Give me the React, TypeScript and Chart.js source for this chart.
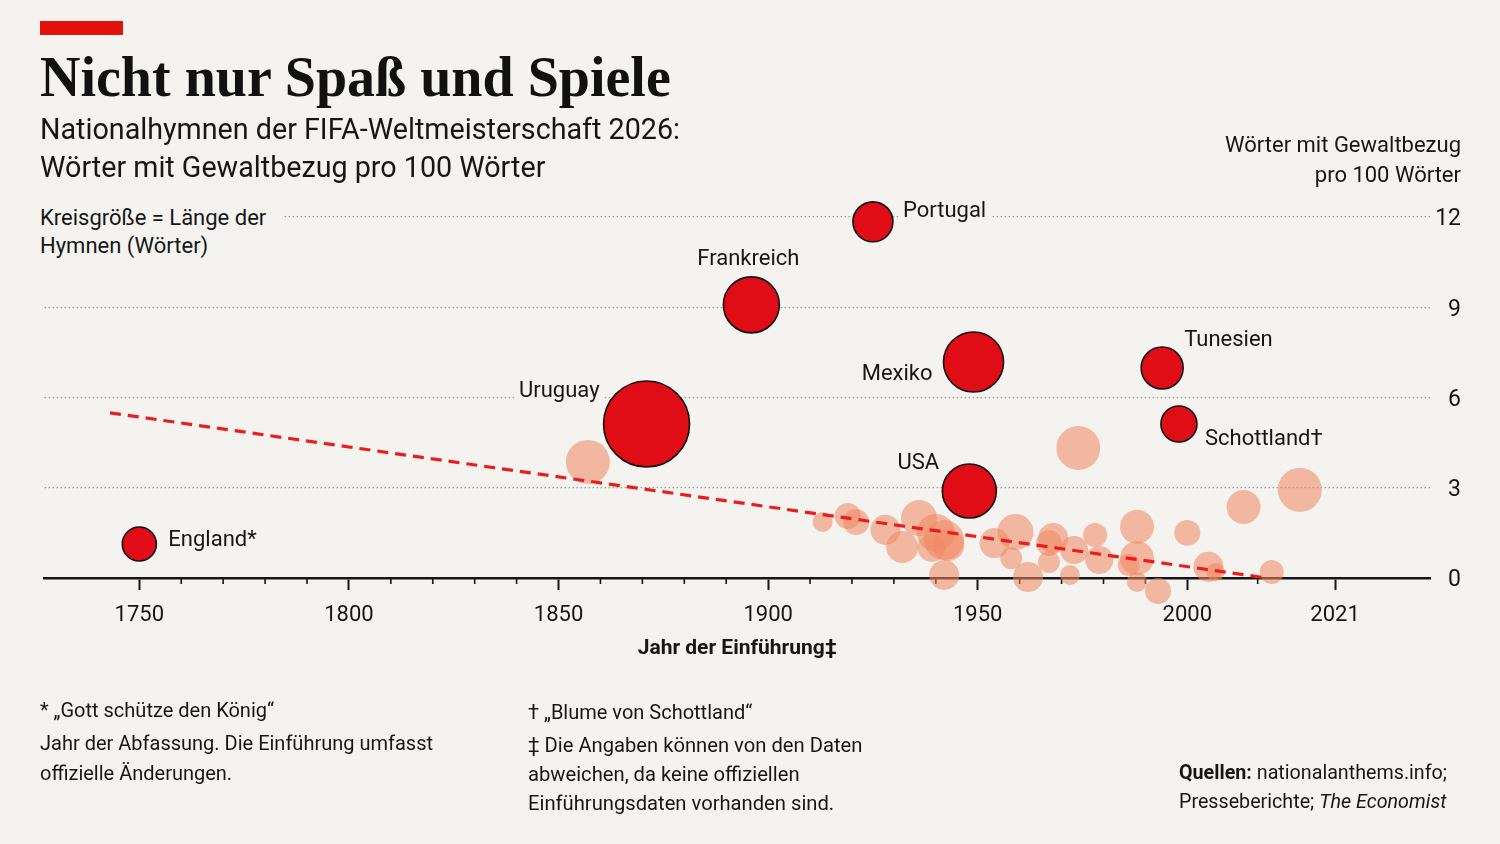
import React, { useEffect, useRef } from "react";
import { Chart, registerables, LinearScale } from "chart.js";

// ---------- data ----------

// Hervorgehobene Hymnen
const featuredNames = ["England*", "Uruguay", "Frankreich", "Portugal", "Mexiko", "USA", "Tunesien", "Schottland†"];
const featuredYears = [1750, 1871, 1896, 1925, 1949, 1948, 1994, 1998];
const featuredViolence = [1.13, 5.12, 9.08, 11.84, 7.18, 2.89, 6.98, 5.12];
const featuredWords = [113, 722, 306, 156, 352, 285, 172, 127];

// Übrige Teilnehmer
const otherYears = [1857, 1913, 1919, 1921, 1928, 1932, 1936, 1940, 1942, 1939, 1942, 1943, 1954, 1959, 1958, 1962, 1967, 1968, 1973, 1972, 1974, 1967, 1978, 1979, 1988, 1988, 1986, 1988, 1993, 1997, 2000, 2003, 2004, 2008, 2012, 2016];
const otherViolence = [3.86, 1.86, 2.06, 1.86, 1.6, 1.03, 1.99, 1.5, 1.26, 1.0, 0.1, 1.1, 1.16, 1.53, 0.66, 0.03, 1.16, 1.33, 0.93, 0.1, 4.32, 0.53, 1.43, 0.6, 1.7, 0.66, 0.43, -0.13, -0.43, -0.53, 1.5, 0.37, 0.2, 2.36, 0.2, 2.93];
const otherWords = [189, 39, 66, 66, 88, 100, 127, 141, 156, 77, 88, 100, 88, 127, 47, 88, 66, 88, 77, 39, 189, 47, 56, 77, 113, 113, 47, 39, 66, 39, 66, 88, 32, 113, 56, 189];

// Trendlinie
const trendYears = [1743, 2011.3];
const trendValues = [5.49, 0];

// Achsen
const xMajorTicks = [1750, 1800, 1850, 1900, 1950, 2000, 2021];
const xMinorTicks = [1760, 1770, 1780, 1790, 1810, 1820, 1830, 1840, 1860, 1870, 1880, 1890, 1910, 1920, 1930, 1940, 1960, 1970, 1980, 1990, 2010];
const yTicks = [0, 3, 6, 9, 12];

// ---------- styling ----------

const BG = "#f4f3ef";
const RED = "#e3120b";
const INK = "#161616";
const FONT = "Roboto, 'Noto Sans', sans-serif";

// label placement for the highlighted bubbles: [dx, dy, align]
const labelPlacement: [number, number, CanvasTextAlign][] = [
  [29, -4, "left"],
  [-47, -32, "right"],
  [-3, -45, "center"],
  [30, -10, "left"],
  [-41, 12, "right"],
  [-51, -28, "center"],
  [22, -28, "left"],
  [26, 16, "left"],
];

const radiusFor = (words: number) => 1.6 * Math.sqrt(words);

// The year axis is stretched after 2000 so the recent anthems spread out.
const STRETCH_FROM = 2000;
const STRETCH_FACTOR = 1.678;
const stretch = (v: number) => (v <= STRETCH_FROM ? v : STRETCH_FROM + (v - STRETCH_FROM) * STRETCH_FACTOR);
const unstretch = (w: number) => (w <= STRETCH_FROM ? w : STRETCH_FROM + (w - STRETCH_FROM) / STRETCH_FACTOR);

class StretchedYearScale extends LinearScale {
  static id = "stretchedYear";
  static defaults = { ticks: { callback: (v: number) => String(v) } };
  getPixelForValue(value: number) {
    if (value === null || value === undefined || isNaN(value)) return NaN;
    const a = stretch(this.min);
    const b = stretch(this.max);
    return this.getPixelForDecimal((stretch(value) - a) / (b - a));
  }
  getValueForPixel(pixel: number) {
    const a = stretch(this.min);
    const b = stretch(this.max);
    return unstretch(a + this.getDecimalForPixel(pixel) * (b - a));
  }
}

Chart.register(...registerables, StretchedYearScale);

const minorTicksPlugin = {
  id: "minorTicks",
  beforeDatasetsDraw(chart: any) {
    const { ctx, chartArea, scales } = chart;
    ctx.save();
    ctx.strokeStyle = INK;
    ctx.lineWidth = 1.6;
    xMinorTicks.forEach((yr) => {
      const px = scales.x.getPixelForValue(yr);
      ctx.beginPath();
      ctx.moveTo(px, chartArea.bottom);
      ctx.lineTo(px, chartArea.bottom + 6);
      ctx.stroke();
    });
    ctx.restore();
  },
};

const bubbleLabelPlugin = {
  id: "bubbleLabels",
  afterDatasetsDraw(chart: any) {
    const { ctx } = chart;
    const meta = chart.getDatasetMeta(2);
    ctx.save();
    ctx.font = `22px ${FONT}`;
    ctx.textBaseline = "middle";
    meta.data.forEach((el: any, i: number) => {
      const [dx, dy, align] = labelPlacement[i];
      const text = featuredNames[i];
      const x = el.x + dx;
      const y = el.y + dy;
      const w = ctx.measureText(text).width;
      const left = align === "left" ? x : align === "right" ? x - w : x - w / 2;
      ctx.fillStyle = BG;
      ctx.fillRect(left - 5, y - 13, w + 10, 26);
      ctx.fillStyle = INK;
      ctx.textAlign = align;
      ctx.fillText(text, x, y);
    });
    ctx.restore();
  },
};

function buildConfig(): any {
  const others = otherYears.map((x, i) => ({ x, y: otherViolence[i], r: radiusFor(otherWords[i]) }));
  const featured = featuredYears.map((x, i) => ({ x, y: featuredViolence[i], r: radiusFor(featuredWords[i]) }));
  const trend = trendYears.map((x, i) => ({ x, y: trendValues[i] }));

  return {
    type: "bubble",
    data: {
      datasets: [
        {
          label: "Andere",
          data: others,
          backgroundColor: "rgba(240, 136, 98, 0.56)",
          borderWidth: 0,
          clip: false,
          order: 3,
        },
        {
          type: "line",
          label: "Trend",
          data: trend,
          borderColor: "#ec1c1c",
          borderWidth: 3.2,
          borderDash: [11, 7],
          pointRadius: 0,
          fill: false,
          clip: false,
          order: 2,
        },
        {
          label: "Hervorgehoben",
          data: featured,
          backgroundColor: "#e00d16",
          borderColor: "#111",
          borderWidth: 1.6,
          clip: false,
          order: 1,
        },
      ],
    },
    options: {
      responsive: false,
      animation: false,
      devicePixelRatio: 1,
      events: [],
      layout: { padding: { left: 42, right: 39, top: 217, bottom: 179 } },
      plugins: { legend: { display: false }, tooltip: { enabled: false } },
      scales: {
        x: {
          type: "stretchedYear",
          bounds: "data",
          min: 1727.4,
          max: 2034.5,
          afterBuildTicks: (s: any) => {
            s.ticks = xMajorTicks.map((v) => ({ value: v }));
          },
          afterFit: (s: any) => {
            s.height = 87;
          },
          ticks: {
            autoSkip: false,
            maxRotation: 0,
            padding: 12,
            color: INK,
            font: { family: FONT, size: 22 },
            callback: (v: number) => String(v),
          },
          grid: { drawOnChartArea: false, drawTicks: true, tickLength: 12, tickWidth: 2, tickColor: INK },
          border: { display: true, color: INK, width: 2.6 },
          title: {
            display: true,
            text: "Jahr der Einführung‡",
            color: INK,
            font: { family: FONT, size: 21, weight: "bold" },
            padding: { top: 0, bottom: 4 },
          },
        },
        y: {
          position: "right",
          min: 0,
          max: 12,
          afterBuildTicks: (s: any) => {
            s.ticks = yTicks.map((v) => ({ value: v }));
          },
          afterFit: (s: any) => {
            s.width = 31;
          },
          ticks: {
            crossAlign: "far",
            padding: 0,
            labelOffset: 2.5,
            color: INK,
            font: { family: FONT, size: 23 },
            callback: (v: number) => String(v),
          },
          grid: {
            drawTicks: false,
            lineWidth: 1.2,
            color: (c: any) => (c.tick && c.tick.value === 0 ? "rgba(0,0,0,0)" : "#9a9a9a"),
          },
          border: { display: false, dash: [1.5, 2.5] },
        },
      },
    },
    plugins: [minorTicksPlugin, bubbleLabelPlugin],
  };
}

// text placed by its first baseline
const K_SANS = 0.342;
const K_SERIF = 0.3375;

function Text(props: {
  x: number;
  baseline: number;
  size: number;
  lh: number;
  k?: number;
  align?: "left" | "right";
  style?: React.CSSProperties;
  children: React.ReactNode;
}) {
  const { x, baseline, size, lh, k = K_SANS, align = "left", style, children } = props;
  const top = baseline - lh / 2 - k * size;
  const pos = align === "right" ? { right: 1500 - x } : { left: x };
  return (
    <div
      style={{
        position: "absolute",
        top,
        ...pos,
        fontSize: size,
        lineHeight: `${lh}px`,
        whiteSpace: "pre",
        textAlign: align,
        ...style,
      }}
    >
      {children}
    </div>
  );
}

export default function App() {
  const canvasRef = useRef<HTMLCanvasElement>(null);

  useEffect(() => {
    Chart.defaults.font.family = FONT;
    const chart = new Chart(canvasRef.current as HTMLCanvasElement, buildConfig());
    return () => chart.destroy();
  }, []);

  return (
    <div
      style={{
        position: "absolute",
        left: 0,
        top: 0,
        width: 1500,
        height: 844,
        overflow: "hidden",
        background: BG,
        color: INK,
        fontFamily: FONT,
      }}
    >
      <canvas ref={canvasRef} width={1500} height={844} style={{ position: "absolute", left: 0, top: 0 }} />

      <div style={{ position: "absolute", left: 40, top: 21, width: 83, height: 14, background: RED }} />

      <Text
        x={40}
        baseline={96}
        size={56}
        lh={60}
        k={K_SERIF}
        style={{ fontFamily: "'Liberation Serif', serif", fontWeight: 700, color: "#111" }}
      >
        Nicht nur Spaß und Spiele
      </Text>

      <Text x={40} baseline={139} size={28.7} lh={38}>
        {"Nationalhymnen der FIFA-Weltmeisterschaft 2026:\nWörter mit Gewaltbezug pro 100 Wörter"}
      </Text>

      <Text x={40} baseline={226} size={22} lh={28} style={{ background: BG, width: 243 }}>
        {"Kreisgröße = Länge der\nHymnen (Wörter)"}
      </Text>

      <Text x={1461} baseline={153} size={22} lh={30} align="right">
        {"Wörter mit Gewaltbezug\npro 100 Wörter"}
      </Text>

      <Text x={40} baseline={717} size={20} lh={30}>
        {"* „Gott schütze den König“"}
      </Text>
      <Text x={40} baseline={750} size={20} lh={30}>
        {"Jahr der Abfassung. Die Einführung umfasst\noffizielle Änderungen."}
      </Text>

      <Text x={528} baseline={719} size={20} lh={29}>
        {"† „Blume von Schottland“"}
      </Text>
      <Text x={528} baseline={752} size={20.2} lh={29}>
        {"‡ Die Angaben können von den Daten\nabweichen, da keine offiziellen\nEinführungsdaten vorhanden sind."}
      </Text>

      <Text x={1179} baseline={779} size={19.7} lh={29}>
        <b>Quellen:</b>
        {" nationalanthems.info;\nPresseberichte; "}
        <i>The Economist</i>
      </Text>
    </div>
  );
}
